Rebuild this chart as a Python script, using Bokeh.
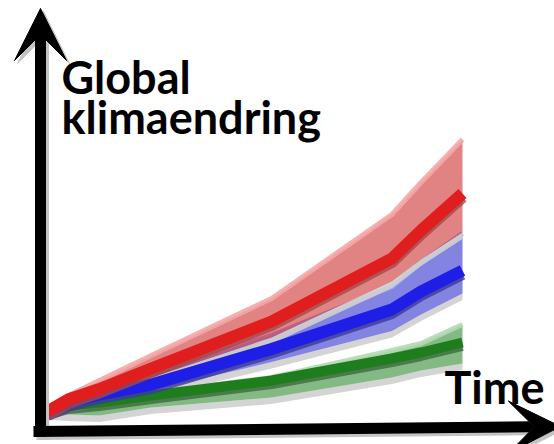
from bokeh.plotting import figure
from bokeh.models import Range1d, Label, Arrow, VeeHead, ColumnDataSource
from bokeh.embed import file_html
from bokeh.resources import INLINE

# ---- data ----
t = [0, 5, 12.5, 25, 54, 83, 90, 100]
red_mid = [0.0, 0.24, 0.45, 0.86, 1.80, 3.06, 3.62, 4.36]
red_hi = [0.04, 0.32, 0.62, 1.12, 2.26, 3.94, 4.58, 5.44]
red_lo = [-0.02, 0.14, 0.30, 0.68, 1.48, 2.60, 3.04, 3.58]
blue_mid = [0.0, 0.18, 0.34, 0.54, 1.25, 2.04, 2.40, 2.82]
blue_hi = [0.03, 0.24, 0.44, 0.76, 1.52, 2.50, 2.98, 3.56]
blue_lo = [-0.03, 0.10, 0.22, 0.42, 0.99, 1.61, 1.94, 2.36]
green_mid = [0.0, 0.12, 0.18, 0.32, 0.62, 1.06, 1.18, 1.38]
green_hi = [0.02, 0.18, 0.26, 0.38, 0.68, 1.22, 1.36, 1.74]
green_lo = [-0.04, -0.06, -0.08, 0.08, 0.28, 0.68, 0.82, 0.96]

y_label_1 = "Global"
y_label_2 = "klimaendring"
x_label = "Time"

# ---- layout (page pixels -> data) ----
OFF = 0
T0_PX, T_SCALE = 47.0, 4.15
Y0_PX, Y_SCALE = 411.0, 50.0


def xd(px):
    return (px - T0_PX) / T_SCALE


def yd(px):
    return (Y0_PX - px) / Y_SCALE


W, H = 554, 444
p = figure(width=W, height=H, output_backend="svg", toolbar_location=None,
           x_range=Range1d(xd(OFF), xd(OFF + W)), y_range=Range1d(yd(OFF + H), yd(OFF)),
           min_border=0, min_border_left=0, min_border_right=0,
           min_border_top=0, min_border_bottom=0)
p.axis.visible = False
p.grid.visible = False
p.outline_line_color = None
p.background_fill_color = "white"
p.border_fill_color = "white"

# ---- axis arrows (with soft shadow) ----
def add_arrow(x0, y0, x1, y1, color, lw):
    p.add_layout(Arrow(end=VeeHead(size=52, fill_color=color, line_color=color, line_width=1),
                       x_start=x0, y_start=y0, x_end=x1, y_end=y1,
                       line_color=color, line_width=lw))

add_arrow(xd(43), yd(439), xd(43), yd(11), "#c4c4c4", 11)
add_arrow(xd(36), yd(434), xd(563), yd(429), "#c4c4c4", 11)
add_arrow(xd(40), yd(436), xd(40), yd(8), "black", 11)
add_arrow(xd(33), yd(431), xd(560), yd(426), "black", 11)

# ---- scenario bands and lines ----
SH = 0.13  # shadow depth
scen = [
    (green_lo, green_mid, green_hi, "#1e821e", "#b2d8b2", "#1e7e1e", "#3f6a3f", 10),
    (blue_lo, blue_mid, blue_hi, "#1e1ec8", "#a8a8f4", "#1e1ee6", "#3a3a98", 12),
    (red_lo, red_mid, red_hi, "#c81e1e", "#f4a6a6", "#e01e1e", "#a04a4a", 12),
]
for lo, mid, hi, band_c, light_c, line_c, dark_c, lw in scen:
    src = ColumnDataSource(dict(t=t, lo=lo, mid=mid, hi=hi,
                                sh=[v - SH for v in lo]))
    p.varea(x="t", y1="sh", y2="lo", source=src, fill_color="#cfcfcf", fill_alpha=0.9)
    p.varea(x="t", y1="lo", y2="hi", source=src, fill_color=band_c, fill_alpha=0.55)
    p.line(x="t", y="hi", source=src, line_color=light_c, line_width=5, line_alpha=0.9,
           line_join="round")
for lo, mid, hi, band_c, light_c, line_c, dark_c, lw in scen:
    src = ColumnDataSource(dict(t=t, mid=mid, mid_sh=[v - 0.07 for v in mid]))
    p.line(x="t", y="mid_sh", source=src, line_color=dark_c, line_width=lw,
           line_join="round", line_alpha=0.8)
    p.line(x="t", y="mid", source=src, line_color=line_c, line_width=lw,
           line_join="round")

# ---- labels ----
for txt, px, py in [(y_label_1, 61, 76), (y_label_2, 61, 116), (x_label, 444, 386)]:
    p.add_layout(Label(x=xd(px), y=yd(py), text=txt, text_font="Lato",
                       text_font_style="bold", text_font_size="45px",
                       text_color="black", text_baseline="alphabetic",
                       text_align="left"))

open("out.html", "w").write(file_html(p, INLINE))
